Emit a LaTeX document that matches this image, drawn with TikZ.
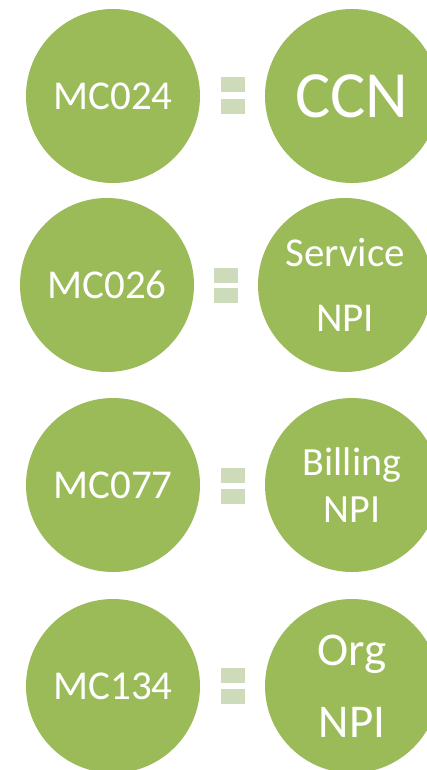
\documentclass[tikz,border=0pt]{standalone}
\usepackage{fontspec}
\setmainfont{Carlito}
\usepackage{tikz}
\usetikzlibrary{positioning}
\definecolor{olivegreen}{RGB}{155,187,89}
\definecolor{palegreen}{RGB}{205,219,186}

\begin{document}
\begin{tikzpicture}[x=1pt,y=-1pt,
  ball/.style={circle,fill=olivegreen,minimum size=174pt,inner sep=0pt,
    text=white,align=center},
  bar/.style={rectangle,fill=palegreen,minimum width=24pt,minimum height=15pt,inner sep=0pt}]
\useasboundingbox (0,0) rectangle (426,770);
%\draw (0,0) grid (426,770);
\node[ball,font=\fontsize{41}{49}\selectfont] (mc024) at (113,96) {MC024};
\node[ball,font=\fontsize{66}{79}\selectfont] (ccn) at (352,96) {CCN};
\node[ball,font=\fontsize{41}{49}\selectfont] (mc026) at (107,285) {MC026};
\node[ball,font=\fontsize{41}{65}\selectfont] (snpi) at (345,285) {Service\\NPI};
\node[ball,font=\fontsize{41}{49}\selectfont] (mc077) at (113,485) {MC077};
\node[ball,font=\fontsize{40}{47}\selectfont] (bnpi) at (352,485) {Billing\\NPI};
\node[ball,font=\fontsize{41}{49}\selectfont] (mc134) at (113,686) {MC134};
\node[ball,font=\fontsize{47}{72}\selectfont] (onpi) at (352,686) {Org\\NPI};
\node[bar] (eq1a) at (232.5,85) {};
\node[bar] (eq1b) at (232.5,107) {};
\node[bar] (eq2a) at (226,275.5) {};
\node[bar] (eq2b) at (226,295.5) {};
\node[bar] (eq3a) at (232.5,475) {};
\node[bar] (eq3b) at (232.5,496) {};
\node[bar] (eq4a) at (232.5,675) {};
\node[bar] (eq4b) at (232.5,696.5) {};
\end{tikzpicture}
\end{document}
